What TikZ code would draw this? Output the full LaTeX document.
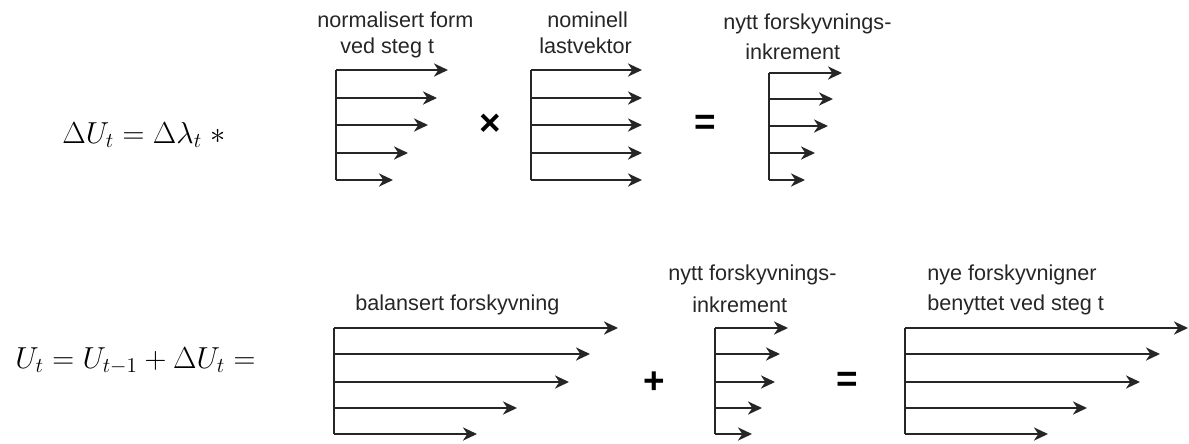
\documentclass[tikz,border=0pt]{standalone}
\usepackage{amsmath}
\usepackage{fontspec}
\usepackage{tikz}
\usetikzlibrary{arrows.meta}
\newfontfamily\lblsans{Liberation Sans}
\tikzset{
	load/.style={-{Stealth[length=8pt, width=7.5pt, inset=2.5pt]}, line width=1.1pt, black!85},
	stem/.style={line width=1.1pt, black!85},
	lbl/.style={anchor=base west, inner sep=0pt, font=\lblsans\fontsize{12.3}{14}\selectfont, text=black!85},
	opnode/.style={inner sep=0pt, font=\lblsans\bfseries\fontsize{21}{21}\selectfont},
	eqnode/.style={anchor=base west, inner sep=0pt, font=\fontsize{18}{21}\selectfont}
}

\begin{document}
\begin{tikzpicture}[x=0.02cm, y=-0.02cm]
		\useasboundingbox (0,0) rectangle (1189,443);
		
		% equations
		\node[eqnode] at (62,143) (dU) {$\Delta U_t = \Delta\lambda_t \;\ast$};
		\node[eqnode] at (15,368) (U) {$U_t = U_{t-1} + \Delta U_t =$};
		
		% top row
		\node[lbl] at (317,27) (nf1) {normalisert form};
		\node[lbl] at (340,53) (nf2) {ved steg t};
		\node[lbl] at (547,27) (nl1) {nominell};
		\node[lbl] at (539,53) (nl2) {lastvektor};
		\node[lbl] at (723,29) (ni1) {nytt forskyvnings-};
		\node[lbl] at (745,59) (ni2) {inkrement};
		
		\foreach \yy/\xx [count=\i] in {70/448,98/437,125/428,153/408,180/393}{
			\coordinate (f\i) at (336,\yy); \coordinate (fe\i) at (\xx,\yy);
			\draw[load] (f\i) -- (fe\i);}
		\draw[stem] (f1) -- (f5);
		\foreach \yy [count=\i] in {70,98,125,153,180}{
			\coordinate (l\i) at (531,\yy); \coordinate (le\i) at (642,\yy);
			\draw[load] (l\i) -- (le\i);}
		\draw[stem] (l1) -- (l5);
		\foreach \yy/\xx [count=\i] in {73/842,99/833,126/828,153/815,180/805}{
			\coordinate (d\i) at (769,\yy); \coordinate (de\i) at (\xx,\yy);
			\draw[load] (d\i) -- (de\i);}
		\draw[stem] (d1) -- (d5);
		
		\node[opnode] at (490,125) (times) {×};
		\node[opnode] at (705,125) (eqtop) {=};
		
		% bottom row
		\node[lbl] at (355,310) (bf) {balansert forskyvning};
		\node[lbl] at (668,280) (bi1) {nytt forskyvnings-};
		\node[lbl] at (692,312) (bi2) {inkrement};
		\node[lbl] at (927,280) (nb1) {nye forskyvnigner};
		\node[lbl] at (927,310) (nb2) {benyttet ved steg t};
		
		\foreach \yy/\xx [count=\i] in {328/618,354/590,382/569,408/517,434/477}{
			\coordinate (b\i) at (334,\yy); \coordinate (be\i) at (\xx,\yy);
			\draw[load] (b\i) -- (be\i);}
		\draw[stem] (b1) -- (b5);
		\foreach \yy/\xx [count=\i] in {328/788,354/780,382/775,408/762,434/752}{
			\coordinate (k\i) at (715,\yy); \coordinate (ke\i) at (\xx,\yy);
			\draw[load] (k\i) -- (ke\i);}
		\draw[stem] (k1) -- (k5);
		\foreach \yy/\xx [count=\i] in {328/1188,354/1160,382/1140,408/1087,434/1048}{
			\coordinate (n\i) at (905,\yy); \coordinate (ne\i) at (\xx,\yy);
			\draw[load] (n\i) -- (ne\i);}
		\draw[stem] (n1) -- (n5);
		
		\node[opnode] at (654,383) (plus) {+};
		\node[opnode] at (847,382) (eqbot) {=};
	\end{tikzpicture}
\end{document}
